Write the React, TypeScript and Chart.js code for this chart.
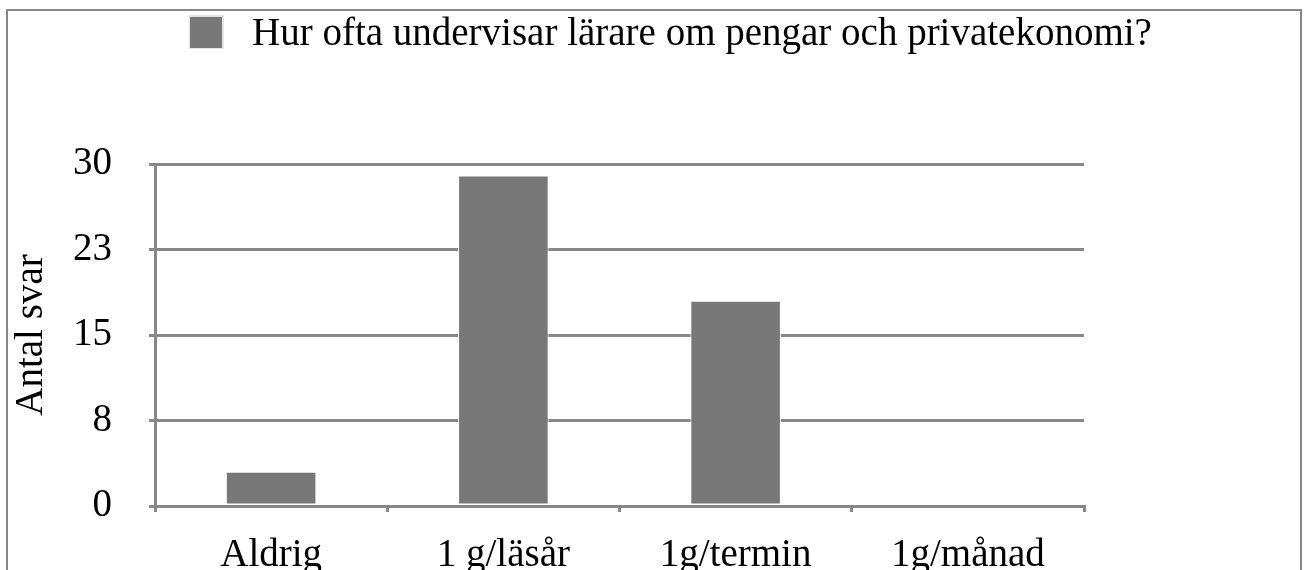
import React, { useEffect, useRef } from "react";
import { Chart, registerables } from "chart.js";

Chart.register(...registerables);

const categories = ["Aldrig", "1 g/läsår", "1g/termin", "1g/månad"];
const seriesLabel = "Hur ofta undervisar lärare om pengar och privatekonomi?";
const seriesValues = [3, 29, 18, 0];
const yTitle = "Antal svar";
const yMin = 0;
const yMax = 30;
const yStep = 7.5;

const FONT = "'Liberation Serif', 'Times New Roman', serif";
const FS = 39;
const GRID = "#878787";
const BAR = "#787878";

const framePlugin = {
  id: "frame",
  beforeDraw(chart: any) {
    const ctx = chart.ctx;
    ctx.save();
    ctx.fillStyle = "#ffffff";
    ctx.fillRect(0, 0, chart.width, chart.height);
    ctx.strokeStyle = GRID;
    ctx.lineWidth = 2;
    ctx.strokeRect(7, 10, 1294, 620);
    ctx.restore();
  },
};

const legendPlugin = {
  id: "customLegend",
  afterDraw(chart: any) {
    const ctx = chart.ctx;
    const ds = chart.data.datasets[0];
    ctx.save();
    ctx.fillStyle = "#e4e4e4";
    ctx.fillRect(189, 15, 35, 34);
    ctx.fillStyle = BAR;
    ctx.fillRect(190, 17, 32, 31);
    ctx.font = `${FS}px ${FONT}`;
    ctx.fillStyle = "#000";
    ctx.textAlign = "left";
    ctx.textBaseline = "alphabetic";
    ctx.fillText(ds.label, 252, 45);
    ctx.restore();
  },
};

export default function App() {
  const ref = useRef<HTMLCanvasElement | null>(null);
  useEffect(() => {
    if (!ref.current) return;
    const chart = new Chart(ref.current, {
      type: "bar",
      data: {
        labels: categories,
        datasets: [
          {
            label: seriesLabel,
            data: seriesValues,
            backgroundColor: BAR,
            borderColor: "#ffffff",
            borderWidth: 1,
            borderSkipped: false,
            categoryPercentage: 1,
            barPercentage: 0.39,
          },
        ],
      },
      options: {
        animation: false,
        responsive: false,
        layout: { padding: { left: 8, right: 222, top: 164, bottom: 0 } },
        plugins: {
          legend: { display: false },
          tooltip: { enabled: false },
        },
        scales: {
          x: {
            afterFit: (s: any) => {
              s.height = 64;
            },
            grid: {
              display: true,
              offset: true,
              drawOnChartArea: false,
              drawTicks: true,
              tickLength: 6,
              color: GRID,
              lineWidth: 3,
            },
            border: { display: true, color: GRID, width: 3 },
            ticks: {
              color: "#000",
              font: { family: FONT, size: FS },
              padding: 20,
              maxRotation: 0,
              autoSkip: false,
            },
          },
          y: {
            min: yMin,
            max: yMax,
            afterFit: (s: any) => {
              s.width = 147;
            },
            grid: {
              color: GRID,
              lineWidth: 3,
              drawTicks: true,
              tickLength: 6,
            },
            border: { display: true, color: GRID, width: 3 },
            ticks: {
              stepSize: yStep,
              color: "#000",
              font: { family: FONT, size: FS },
              padding: 37,
              callback: (v: any) => String(Math.round(Number(v))),
            },
            title: {
              display: true,
              text: yTitle,
              color: "#000",
              font: { family: FONT, size: FS },
              padding: { top: 0, bottom: 0 },
            },
          },
        },
      },
      plugins: [framePlugin, legendPlugin],
    });
    return () => chart.destroy();
  }, []);
  return (
    <div style={{ position: "absolute", left: 0, top: 0, width: 1306, height: 570 }}>
      <canvas ref={ref} width={1306} height={570} style={{ display: "block" }} />
    </div>
  );
}
